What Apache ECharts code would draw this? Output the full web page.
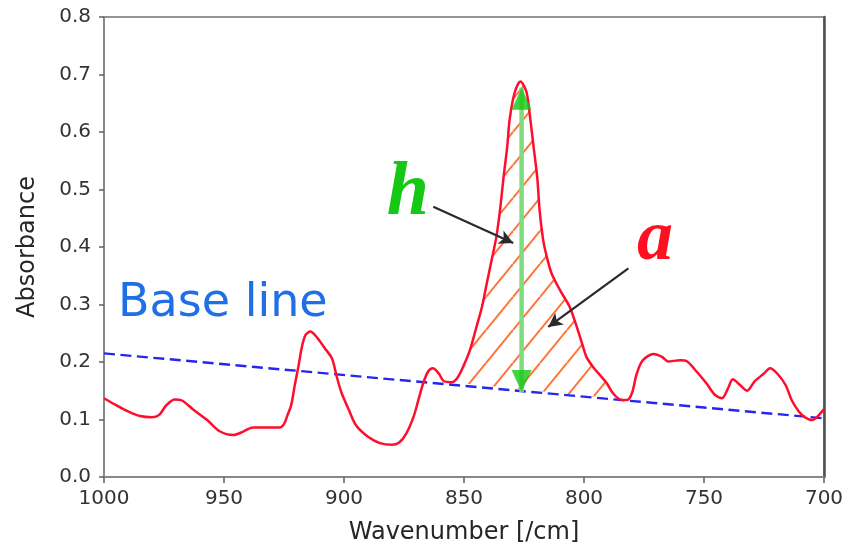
<!DOCTYPE html>
<html>
<head>
<meta charset="utf-8">
<script src="https://cdn.jsdelivr.net/npm/echarts@6/dist/echarts.min.js"></script>
<style>
  html, body { margin: 0; padding: 0; background: #fff; }
  #chart { width: 855px; height: 552px; }
</style>
</head>
<body>
<div id="chart"></div>
<script>
// IR absorbance spectrum, 1000–700 /cm
const waveNumbers = [
  1000, 995, 990, 985, 980, 977, 974, 970.5, 967.5, 963, 957, 952, 946, 942, 938, 932, 927,
  925, 923.5, 922, 920.5, 919, 917.5, 916, 914, 911.5, 908, 905, 903, 901, 898, 895, 890,
  885, 880, 877, 874, 871, 869, 867, 865, 863, 860.5, 858.5, 855, 852.5, 850, 847.5, 845,
  842.5, 840.5, 838.5, 836.5, 835, 833.5, 832, 831, 829, 826.5, 824, 822.5, 821, 819.5,
  818.5, 817, 815.5, 813.5, 810, 806, 803, 800.5, 799, 796, 793.5, 790.5, 788, 785, 782,
  780, 778, 775.5, 771, 767.5, 765, 760, 757, 753, 749, 745.5, 742.5, 740, 738, 735, 732,
  729, 725, 722.5, 719.5, 716, 713.5, 710.5, 708, 705, 703, 700
];
const absorbance = [
  0.137, 0.125, 0.114, 0.106, 0.104, 0.108, 0.125, 0.135, 0.133, 0.118, 0.099, 0.080, 0.073, 0.079, 0.086, 0.086, 0.086,
  0.092, 0.108, 0.125, 0.160, 0.192, 0.227, 0.247, 0.253, 0.244, 0.224, 0.206, 0.174, 0.146, 0.117, 0.090, 0.070,
  0.059, 0.056, 0.060, 0.076, 0.105, 0.134, 0.163, 0.183, 0.189, 0.180, 0.167, 0.165, 0.174, 0.195, 0.221, 0.258,
  0.296, 0.337, 0.377, 0.418, 0.464, 0.522, 0.574, 0.621, 0.667, 0.688, 0.670, 0.627, 0.574, 0.522,
  0.464, 0.412, 0.383, 0.354, 0.325, 0.296, 0.261, 0.228, 0.209, 0.190, 0.178, 0.163, 0.146, 0.135, 0.134,
  0.146, 0.180, 0.203, 0.214, 0.209, 0.201, 0.203, 0.201, 0.183, 0.163, 0.143, 0.137, 0.154, 0.170, 0.160, 0.150,
  0.166, 0.180, 0.189, 0.180, 0.160, 0.134, 0.114, 0.104, 0.099, 0.104, 0.118
];

// straight base line under the band
const baseWn = [1000, 700];
const baseAbs = [0.215, 0.102];

// integrated band (hatched area a) runs between these wavenumbers
const bandRange = [855, 782];

// peak height h: from base line up to the band maximum
const heightWn = 826;
const heightAbs = [0.148, 0.677];

// pointer arrows for the h and a labels: [start, end]
const hPointer = [[862.8, 0.470], [829.5, 0.407]];
const aPointer = [[781.5, 0.363], [814.9, 0.261]];

const yTicks = [0, 0.8, 0.1];

const spectrum = waveNumbers.map((w, i) => [w, absorbance[i]]);
const baseLine = baseWn.map((w, i) => [w, baseAbs[i]]);

// diagonal hatch tile
function hatchTile() {
  const W = 27, H = 33;
  const c = document.createElement('canvas');
  c.width = W; c.height = H;
  const g = c.getContext('2d');
  g.strokeStyle = '#ff7438';
  g.lineWidth = 2;
  for (const dx of [-W, 0, W]) {
    g.beginPath();
    g.moveTo(dx, H);
    g.lineTo(dx + W, 0);
    g.stroke();
  }
  return c;
}
const hatchPattern = { image: hatchTile(), repeat: 'repeat' };

const FONT = 'DejaVu Sans';
const chart = echarts.init(document.getElementById('chart'), null, { renderer: 'canvas' });

chart.setOption({
  animation: false,
  backgroundColor: '#ffffff',
  grid: {
    left: 104, right: 31, top: 17, bottom: 75,
    show: true, borderColor: '#909696', borderWidth: 2, backgroundColor: 'transparent'
  },
  xAxis: {
    type: 'value', inverse: true, min: 700, max: 1000, interval: 50,
    name: 'Wavenumber [/cm]', nameLocation: 'middle', nameGap: 44,
    nameTextStyle: { fontFamily: FONT, fontSize: 24, color: '#262626' },
    axisLine: { lineStyle: { color: '#848a8a', width: 2 } },
    axisTick: { length: 6, lineStyle: { color: '#5a6060', width: 1.5 } },
    axisLabel: { fontFamily: FONT, fontSize: 20, color: '#333', margin: 12,
                 formatter: v => String(v) },
    splitLine: { show: false }
  },
  yAxis: [{
    type: 'value', min: yTicks[0], max: yTicks[1], interval: yTicks[2],
    name: 'Absorbance', nameLocation: 'middle', nameGap: 64,
    nameTextStyle: { fontFamily: FONT, fontSize: 24, color: '#262626' },
    axisLine: { show: true, lineStyle: { color: '#848a8a', width: 2 } },
    axisTick: { show: true, length: 5, lineStyle: { color: '#5a6060', width: 1.5 } },
    axisLabel: { fontFamily: FONT, fontSize: 20, color: '#333', margin: 13,
                 formatter: v => v.toFixed(1) },
    splitLine: { show: false }
  }, {
    type: 'value', position: 'right', min: yTicks[0], max: yTicks[1],
    axisLine: { show: true, lineStyle: { color: '#4a5252', width: 2.5 } },
    axisTick: { show: false }, axisLabel: { show: false }, splitLine: { show: false }
  }],
  series: [
    {
      // hatched band area between spectrum and base line
      type: 'custom', name: 'band', clip: true, z: 1,
      data: [[bandRange[0], 0]],
      renderItem: (params, api) => {
        const pts = [];
        spectrum.forEach(p => {
          if (p[0] <= bandRange[0] && p[0] >= bandRange[1]) pts.push(api.coord(p));
        });
        return { type: 'polygon', shape: { points: pts }, style: { fill: hatchPattern, stroke: null } };
      }
    },
    {
      type: 'line', name: 'Base line', data: baseLine, z: 3,
      symbol: 'none',
      lineStyle: { color: '#2626ee', width: 2.4, type: [11, 5.5] }
    },
    {
      type: 'line', name: 'spectrum', data: spectrum, z: 4,
      symbol: 'none', smooth: 0.3,
      lineStyle: { color: '#ff0d2d', width: 2.5 },
      markLine: {
        silent: true, animation: false,
        symbol: ['none', 'arrow'], symbolSize: [11, 14],
        label: { show: false },
        lineStyle: { color: '#2a2a2a', width: 2.2, type: 'solid' },
        data: [
          [{ coord: hPointer[0] }, { coord: hPointer[1] }],
          [{ coord: aPointer[0] }, { coord: aPointer[1] }]
        ]
      }
    },
    {
      // peak height shaft
      type: 'line', name: 'h', z: 5, symbol: 'none',
      data: heightAbs.map(v => [heightWn, v]),
      lineStyle: { color: '#7edc7e', width: 4.5 }
    },
    {
      // peak height arrow heads
      type: 'scatter', name: 'h-heads', z: 6,
      data: [
        { value: [heightWn, heightAbs[1]], symbolRotate: 0, symbolOffset: [0, 11] },
        { value: [heightWn, heightAbs[0]], symbolRotate: 180, symbolOffset: [0, -11] }
      ],
      symbol: 'triangle', symbolSize: [20, 22],
      itemStyle: { color: '#14c814' }
    }
  ],
  graphic: [
    {
      type: 'text', z: 100, x: 118, y: 304,
      style: { text: 'Base line', font: '46px "DejaVu Sans"', fill: '#1f6fe6',
               align: 'left', verticalAlign: 'middle' }
    },
    {
      type: 'text', z: 100, x: 408, y: 194,
      style: { text: 'h', font: 'italic bold 76px "Liberation Serif"', fill: '#16c816',
               align: 'center', verticalAlign: 'middle' }
    },
    {
      type: 'text', z: 100, x: 655, y: 240,
      style: { text: 'a', font: 'italic bold 72px "Liberation Serif"', fill: '#ff1020',
               align: 'center', verticalAlign: 'middle' }
    }
  ]
});
</script>
</body>
</html>
